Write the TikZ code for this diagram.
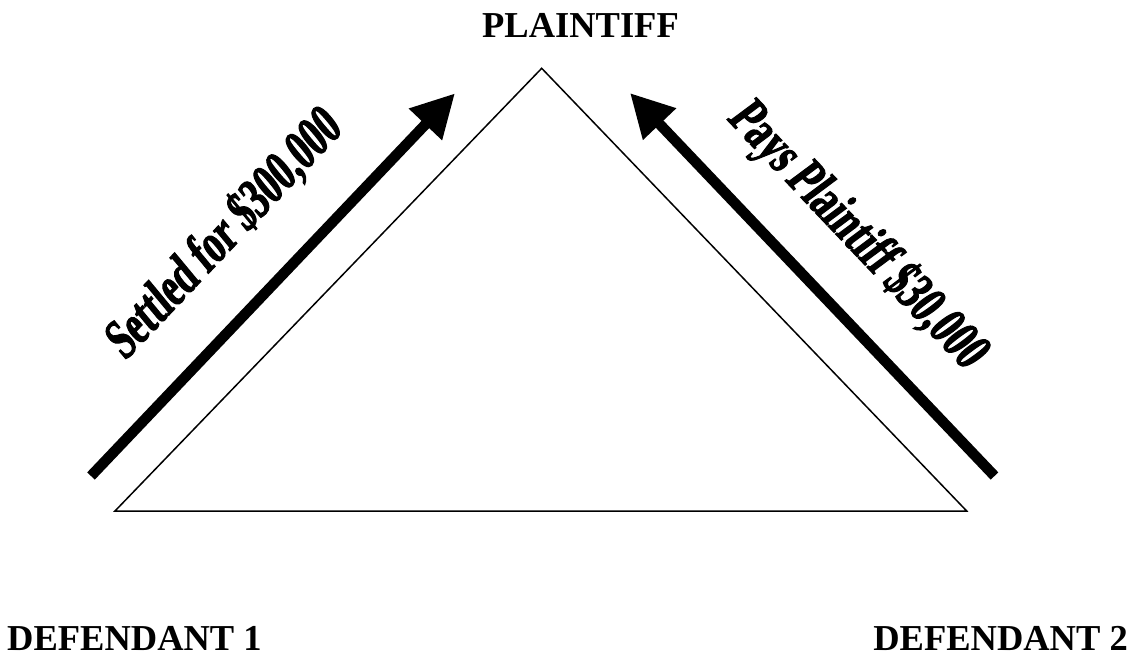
\documentclass[tikz,border=0pt]{standalone}
\usepackage{fontspec}
\setmainfont{Liberation Serif}
\newfontfamily\wafont[FakeStretch=0.67,FakeSlant=0.12,FakeBold=1.8]{Liberation Serif Bold}
\usetikzlibrary{arrows.meta}
\begin{document}
\begin{tikzpicture}[x=1pt,y=-1pt,
  party/.style={inner sep=0pt,font=\fontsize{36.5}{40}\selectfont\bfseries},
  payarrow/.style={line width=10.5pt,-{Triangle[length=43pt,width=43pt]}},
  arrowlabel/.style={inner sep=0pt,font=\wafont\fontsize{56}{60}\selectfont},
  tri/.style={line width=1.5pt,line join=miter}]
\useasboundingbox (0,0) rectangle (1138,656);
% triangle
\coordinate (apex) at (541.7,68.3);
\coordinate (bl) at (115,511);
\coordinate (br) at (966.7,511);
\draw[tri] (apex) -- (bl) -- (br) -- cycle;
% party labels
\node[party,anchor=base] (plaintiff) at (580.5,37) {PLAINTIFF};
\node[party,anchor=base west] (def1) at (7,650) {DEFENDANT 1};
\node[party,anchor=base east] (def2) at (1128,650) {DEFENDANT 2};
% arrows
\coordinate (a1s) at (91,476);
\coordinate (a1e) at (455,93.3);
\coordinate (a2s) at (994.5,476);
\coordinate (a2e) at (630,93);
\draw[payarrow] (a1s) -- (a1e);
\draw[payarrow] (a2s) -- (a2e);
% arrow labels
\node[arrowlabel,rotate=46.5] (lbl1) at (223,235) {Settled for \$300,000};
\node[arrowlabel,rotate=-46.5] (lbl2) at (856,235) {Pays Plaintiff \$30,000};
\end{tikzpicture}
\end{document}
